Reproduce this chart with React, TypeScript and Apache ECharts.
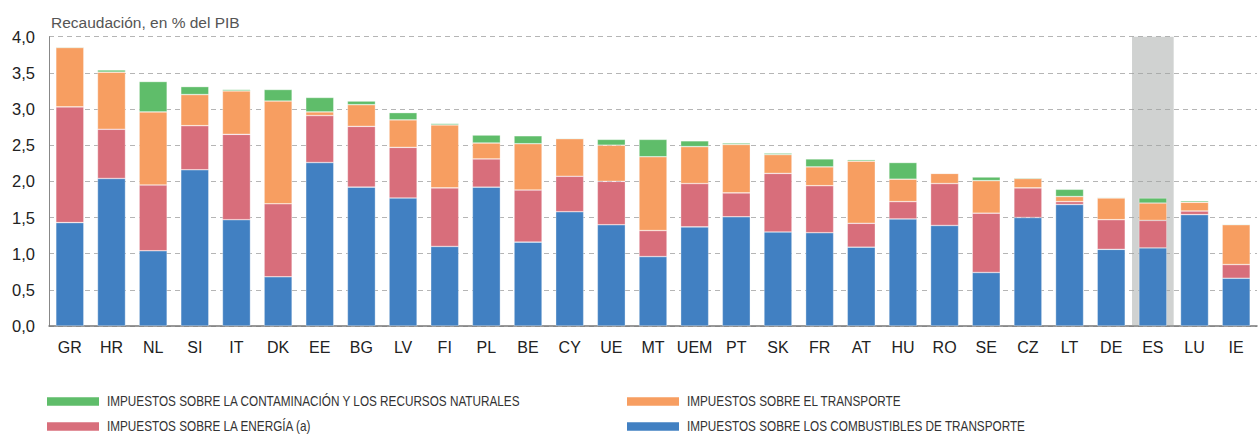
import React, { useEffect, useRef } from "react";
import * as echarts from "echarts";

const categories = ["GR", "HR", "NL", "SI", "IT", "DK", "EE", "BG", "LV", "FI", "PL", "BE", "CY", "UE", "MT", "UEM", "PT", "SK", "FR", "AT", "HU", "RO", "SE", "CZ", "LT", "DE", "ES", "LU", "IE"];

const combustibles = [1.43, 2.04, 1.04, 2.16, 1.47, 0.68, 2.26, 1.92, 1.77, 1.10, 1.92, 1.16, 1.58, 1.40, 0.96, 1.37, 1.51, 1.30, 1.29, 1.09, 1.48, 1.39, 0.74, 1.50, 1.68, 1.06, 1.08, 1.54, 0.66];
const energia = [1.60, 0.68, 0.91, 0.61, 1.18, 1.01, 0.65, 0.84, 0.70, 0.81, 0.39, 0.72, 0.49, 0.60, 0.36, 0.60, 0.33, 0.81, 0.65, 0.33, 0.24, 0.58, 0.82, 0.41, 0.04, 0.41, 0.38, 0.05, 0.19];
const transporte = [0.82, 0.79, 1.01, 0.43, 0.60, 1.42, 0.05, 0.30, 0.38, 0.87, 0.22, 0.64, 0.52, 0.50, 1.02, 0.51, 0.67, 0.26, 0.26, 0.86, 0.31, 0.14, 0.45, 0.13, 0.07, 0.30, 0.24, 0.12, 0.55];
const contaminacion = [0.01, 0.03, 0.42, 0.11, 0.02, 0.16, 0.20, 0.05, 0.10, 0.02, 0.11, 0.11, 0.01, 0.08, 0.24, 0.08, 0.02, 0.02, 0.11, 0.02, 0.23, 0.00, 0.05, 0.01, 0.10, 0.01, 0.07, 0.02, 0.01];

const names = {
  green: "IMPUESTOS SOBRE LA CONTAMINACIÓN Y LOS RECURSOS NATURALES",
  orange: "IMPUESTOS SOBRE EL TRANSPORTE",
  red: "IMPUESTOS SOBRE LA ENERGÍA (a)",
  blue: "IMPUESTOS SOBRE LOS COMBUSTIBLES DE TRANSPORTE",
};
const colors = { blue: "#4180c2", red: "#d86e7b", orange: "#f79e61", green: "#5fbd6a" };
const highlighted = "ES";

export default function App() {
  const ref = useRef<HTMLDivElement>(null);
  useEffect(() => {
    document.body.style.margin = "0";
    const chart = echarts.init(ref.current!, null, { renderer: "svg" });
    const font = "'Liberation Sans', Arial, sans-serif";
    const barCommon = {
      type: "bar",
      stack: "total",
      barWidth: 28,
      itemStyle: { borderColor: "rgba(255,255,255,0.55)", borderWidth: 0.6 },
    };
    const legendItems = [
      { key: "green", x: 47, y: 401.5 },
      { key: "red", x: 47, y: 426.5 },
      { key: "orange", x: 627, y: 401.5 },
      { key: "blue", x: 627, y: 426.5 },
    ] as const;
    const graphic: any[] = [];
    legendItems.forEach((it) => {
      graphic.push({
        type: "rect",
        shape: { x: it.x, y: it.y - 4.25, width: 52, height: 8.5 },
        style: { fill: (colors as any)[it.key] },
        silent: true,
      });
      graphic.push({
        type: "text",
        x: it.x + 60,
        y: it.y,
        scaleX: 0.84,
        silent: true,
        style: {
          text: (names as any)[it.key],
          fontFamily: font,
          fontSize: 14,
          fill: "#333",
          verticalAlign: "middle",
          align: "left",
        },
      });
    });
    chart.setOption({
      animation: false,
      title: {
        text: "Recaudación, en % del PIB",
        left: 46,
        top: 9,
        textStyle: { fontFamily: font, fontSize: 15.5, fontWeight: "normal", color: "#555" },
      },
      grid: { left: 49, right: 1, top: 36.7, bottom: 109 },
      graphic,
      xAxis: {
        type: "category",
        data: categories,
        axisLine: { lineStyle: { color: "#777", width: 1.5 } },
        axisTick: { inside: true, length: 5, lineStyle: { color: "#777" } },
        axisLabel: { interval: 0, fontFamily: font, fontSize: 16, color: "#222", margin: 13 },
      },
      yAxis: {
        type: "value",
        min: 0,
        max: 4,
        interval: 0.5,
        axisLine: { show: true, lineStyle: { color: "#888" } },
        axisTick: { show: false },
        splitLine: { lineStyle: { color: "#b5b5b5", type: [5, 4], width: 1.2 } },
        axisLabel: {
          fontFamily: font,
          fontSize: 16.5,
          color: "#222",
          margin: 14,
          formatter: (v: number) => v.toFixed(1).replace(".", ","),
        },
      },
      series: [
        {
          ...barCommon,
          name: names.blue,
          data: combustibles,
          itemStyle: { ...barCommon.itemStyle, color: colors.blue },
          markArea: {
            silent: true,
            itemStyle: { color: "rgba(160,163,161,0.49)" },
            data: [[{ xAxis: highlighted }, { xAxis: highlighted }]],
          },
        },
        { ...barCommon, name: names.red, data: energia, itemStyle: { ...barCommon.itemStyle, color: colors.red } },
        { ...barCommon, name: names.orange, data: transporte, itemStyle: { ...barCommon.itemStyle, color: colors.orange } },
        { ...barCommon, name: names.green, data: contaminacion, itemStyle: { ...barCommon.itemStyle, color: colors.green } },
      ],
    });
    return () => chart.dispose();
  }, []);
  return <div ref={ref} style={{ position: "absolute", left: 0, top: 0, width: 1258, height: 435 }} />;
}
